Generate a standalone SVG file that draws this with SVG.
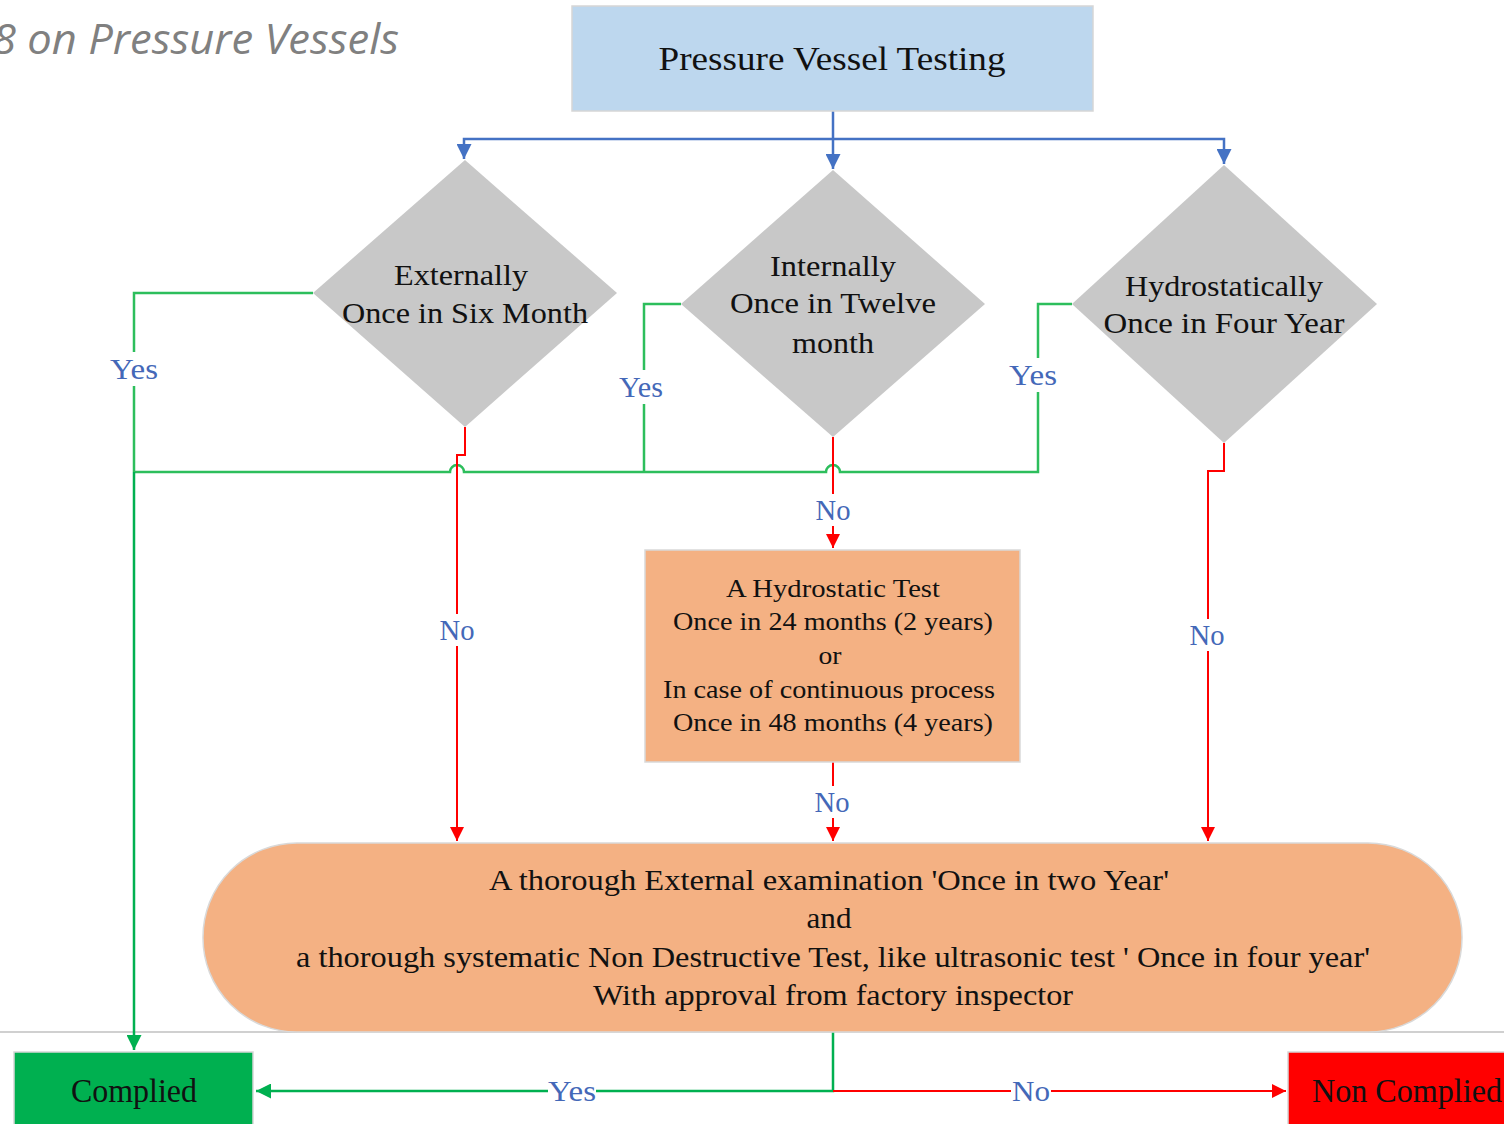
<svg xmlns="http://www.w3.org/2000/svg" width="1504" height="1124" viewBox="0 0 1504 1124">
<defs>
<style>
.t{font-family:"Liberation Serif","Times New Roman",serif;fill:#111;text-anchor:middle}
.lbl{font-family:"Liberation Serif","Times New Roman",serif;fill:#4468B8;text-anchor:middle;font-size:29px}
.g{stroke:#2DBE5C;stroke-width:2.5;fill:none}
.gb{stroke:#00B050;stroke-width:2.5;fill:none}
.r{stroke:#FF0000;stroke-width:2;fill:none}
.b{stroke:#4472C4;stroke-width:2.5;fill:none}
.dia{fill:#C8C8C8}
.or{fill:#F4B183;stroke:#D9D9D9;stroke-width:1.5}
</style>
<marker id="ab" viewBox="0 0 10 10" refX="10" refY="5" markerWidth="6" markerHeight="6" markerUnits="strokeWidth" orient="auto"><path d="M0,0 L10,5 L0,10 z" fill="#4472C4"/></marker>
<marker id="ar" viewBox="0 0 10 10" refX="10" refY="5" markerWidth="7" markerHeight="7" markerUnits="strokeWidth" orient="auto"><path d="M0,0 L10,5 L0,10 z" fill="#FF0000"/></marker>
<marker id="ag" viewBox="0 0 10 10" refX="10" refY="5" markerWidth="6" markerHeight="6" markerUnits="strokeWidth" orient="auto"><path d="M0,0 L10,5 L0,10 z" fill="#00B050"/></marker>
</defs>
<rect width="1504" height="1124" fill="#fff"/>
<text x="-8" y="54" font-family="'Open Sans','Liberation Sans',sans-serif" font-style="italic" font-size="42" fill="#808080" textLength="407" lengthAdjust="spacingAndGlyphs">8 on Pressure Vessels</text>
<line x1="0" y1="1032" x2="1504" y2="1032" stroke="#D0D0D0" stroke-width="2"/>

<g id="connectors">
<path class="b" d="M833,111 V169" marker-end="url(#ab)"/>
<path class="b" d="M833,139 H464 V159" marker-end="url(#ab)"/>
<path class="b" d="M833,139 H1224 V164" marker-end="url(#ab)"/>

<path class="g" d="M313,293 H134 V472"/>
<path class="g" d="M681,304 H644 V472"/>
<path class="g" d="M1072,304 H1038 V472 H840 A7,7 0 0 0 826,472 H464 A7,7 0 0 0 450,472 H134"/>
<path class="gb" d="M134,472 V1050" marker-end="url(#ag)"/>

<path class="r" d="M465,427 V455 H457 V841" marker-end="url(#ar)"/>
<path class="r" d="M833,437 V548" marker-end="url(#ar)"/>
<path class="r" d="M1224,443 V471 H1208 V841" marker-end="url(#ar)"/>
<path class="r" d="M833,762 V841" marker-end="url(#ar)"/>

<path class="gb" d="M833,1032 V1091 H256" marker-end="url(#ag)" stroke-width="2"/>
<path class="r" d="M833,1091 H1286" marker-end="url(#ar)"/>

<g>
<rect x="110" y="352" width="48" height="34" fill="#fff"/><text class="lbl" x="134" y="379" textLength="48" lengthAdjust="spacingAndGlyphs">Yes</text>
<rect x="617" y="370" width="48" height="34" fill="#fff"/><text class="lbl" x="641" y="397" textLength="44" lengthAdjust="spacingAndGlyphs">Yes</text>
<rect x="1009" y="358" width="48" height="34" fill="#fff"/><text class="lbl" x="1033" y="385" textLength="48" lengthAdjust="spacingAndGlyphs">Yes</text>
<rect x="438" y="614" width="38" height="32" fill="#fff"/><text class="lbl" x="457" y="640" font-size="26" textLength="35" lengthAdjust="spacingAndGlyphs">No</text>
<rect x="814" y="494" width="38" height="32" fill="#fff"/><text class="lbl" x="833" y="520" font-size="26" textLength="35" lengthAdjust="spacingAndGlyphs">No</text>
<rect x="1188" y="619" width="38" height="32" fill="#fff"/><text class="lbl" x="1207" y="645" font-size="26" textLength="35" lengthAdjust="spacingAndGlyphs">No</text>
<rect x="813" y="786" width="38" height="32" fill="#fff"/><text class="lbl" x="832" y="812" font-size="26" textLength="35" lengthAdjust="spacingAndGlyphs">No</text>
<rect x="548" y="1073" width="48" height="34" fill="#fff"/><text class="lbl" x="572" y="1101" textLength="48" lengthAdjust="spacingAndGlyphs">Yes</text>
<rect x="1011" y="1073" width="40" height="34" fill="#fff"/><text class="lbl" x="1031" y="1101" textLength="38" lengthAdjust="spacingAndGlyphs">No</text>
</g>
</g>

<g id="n-top">
<rect x="572" y="6" width="521" height="105" fill="#BDD7EE" stroke="#D6D6D6" stroke-width="1.5"/>
<text class="t" x="832" y="70" font-size="34" textLength="347" lengthAdjust="spacingAndGlyphs">Pressure Vessel Testing</text>
</g>

<g id="n-ext">
<polygon class="dia" points="465,160 617,293 465,427 313,293"/>
<text class="t" x="461" y="285" font-size="30" textLength="134" lengthAdjust="spacingAndGlyphs">Externally</text>
<text class="t" x="465" y="323" font-size="30" textLength="246" lengthAdjust="spacingAndGlyphs">Once in Six Month</text>
</g>

<g id="n-int">
<polygon class="dia" points="833,170 985,304 833,437 681,304"/>
<text class="t" x="833" y="276" font-size="30" textLength="126" lengthAdjust="spacingAndGlyphs">Internally</text>
<text class="t" x="833" y="313" font-size="30" textLength="206" lengthAdjust="spacingAndGlyphs">Once in Twelve</text>
<text class="t" x="833" y="353" font-size="30" textLength="82" lengthAdjust="spacingAndGlyphs">month</text>
</g>

<g id="n-hyd">
<polygon class="dia" points="1224,165 1377,304 1224,443 1072,304"/>
<text class="t" x="1224" y="296" font-size="30" textLength="198" lengthAdjust="spacingAndGlyphs">Hydrostatically</text>
<text class="t" x="1224" y="333" font-size="30" textLength="241" lengthAdjust="spacingAndGlyphs">Once in Four Year</text>
</g>

<g id="n-test">
<rect class="or" x="645" y="550" width="375" height="212"/>
<text class="t" x="833" y="597" font-size="25" textLength="214" lengthAdjust="spacingAndGlyphs">A Hydrostatic Test</text>
<text class="t" x="833" y="630" font-size="25" textLength="320" lengthAdjust="spacingAndGlyphs">Once in 24 months (2 years)</text>
<text class="t" x="830" y="664" font-size="25" textLength="23" lengthAdjust="spacingAndGlyphs">or</text>
<text class="t" x="829" y="698" font-size="25" textLength="332" lengthAdjust="spacingAndGlyphs">In case of continuous process</text>
<text class="t" x="833" y="731" font-size="25" textLength="320" lengthAdjust="spacingAndGlyphs">Once in 48 months (4 years)</text>
</g>

<g id="n-exam">
<rect class="or" x="203" y="843" width="1259" height="189" rx="94" ry="94"/>
<text class="t" x="829" y="890" font-size="30" textLength="680" lengthAdjust="spacingAndGlyphs">A thorough External examination 'Once in two Year'</text>
<text class="t" x="829" y="928" font-size="30" textLength="45" lengthAdjust="spacingAndGlyphs">and</text>
<text class="t" x="833" y="967" font-size="30" textLength="1074" lengthAdjust="spacingAndGlyphs">a thorough systematic Non Destructive Test, like ultrasonic test ' Once in four year'</text>
<text class="t" x="833" y="1005" font-size="30" textLength="480" lengthAdjust="spacingAndGlyphs">With approval from factory inspector</text>
</g>

<g id="n-complied">
<rect x="14" y="1052" width="239" height="80" fill="#00B050" stroke="#D6D6D6" stroke-width="1.5"/>
<text class="t" x="134" y="1102" font-size="33" textLength="126" lengthAdjust="spacingAndGlyphs">Complied</text>
</g>

<g id="n-noncomplied">
<rect x="1288" y="1052" width="230" height="80" fill="#FF0000" stroke="#D6D6D6" stroke-width="1.5"/>
<text class="t" x="1407" y="1102" font-size="33" textLength="190" lengthAdjust="spacingAndGlyphs">Non Complied</text>
</g>
</svg>
